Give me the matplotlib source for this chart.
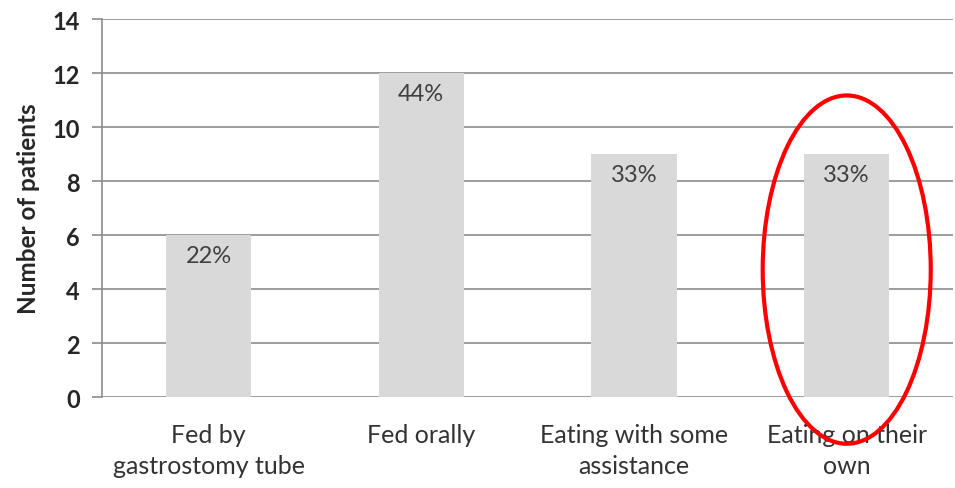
import matplotlib
matplotlib.use('Agg')
import matplotlib.pyplot as plt
from matplotlib.patches import Ellipse

plt.rcParams['font.family'] = ['Lato', 'DejaVu Sans']

categories = ['Fed by\ngastrostomy tube', 'Fed orally', 'Eating with some\nassistance', 'Eating on their\nown']
patients = [6, 12, 9, 9]
percent_labels = ['22%', '44%', '33%', '33%']
highlight_idx = 3

fig = plt.figure(figsize=(9.55, 4.89), dpi=100)
ax = fig.add_axes([0.107, 0.186, 0.891, 0.773])

x = list(range(len(categories)))
ax.bar(x, patients, width=0.4, color='#d9d9d9', zorder=2)

for xi, v, lab in zip(x, patients, percent_labels):
    ax.annotate(lab, (xi, v), xytext=(0, -7), textcoords='offset points',
                ha='center', va='top', fontsize=17, color='#404040', zorder=3)

ax.set_xlim(-0.5, len(categories) - 0.5)
ax.set_ylim(0, 14)
ax.set_yticks(range(0, 15, 2))
ax.yaxis.grid(True, color='#8c8c8c', linewidth=1.2, zorder=0)
ax.set_axisbelow(True)

ax.set_xticks(x)
ax.set_xticklabels(categories, fontsize=18, color='#333333', linespacing=1.4)
ax.tick_params(axis='x', length=0, pad=19)
ax.tick_params(axis='y', length=7, width=1.2, color='#8c8c8c', labelsize=17, pad=9)
for t in ax.get_yticklabels():
    t.set_fontweight('bold')
    t.set_color('#262626')

ax.set_ylabel('Number of patients', fontsize=17.5, fontweight='bold', color='#262626', labelpad=9)

for side in ['top', 'right', 'bottom']:
    ax.spines[side].set_visible(False)
ax.spines['left'].set_color('#8c8c8c')
ax.spines['left'].set_linewidth(1.2)

# red ellipse around the last category
ell = Ellipse((highlight_idx, 4.72), width=0.79, height=12.9, fill=False,
              edgecolor='#ff0000', linewidth=3, clip_on=False, zorder=5)
ax.add_patch(ell)

plt.savefig('out.png', dpi=100)
plt.close()
